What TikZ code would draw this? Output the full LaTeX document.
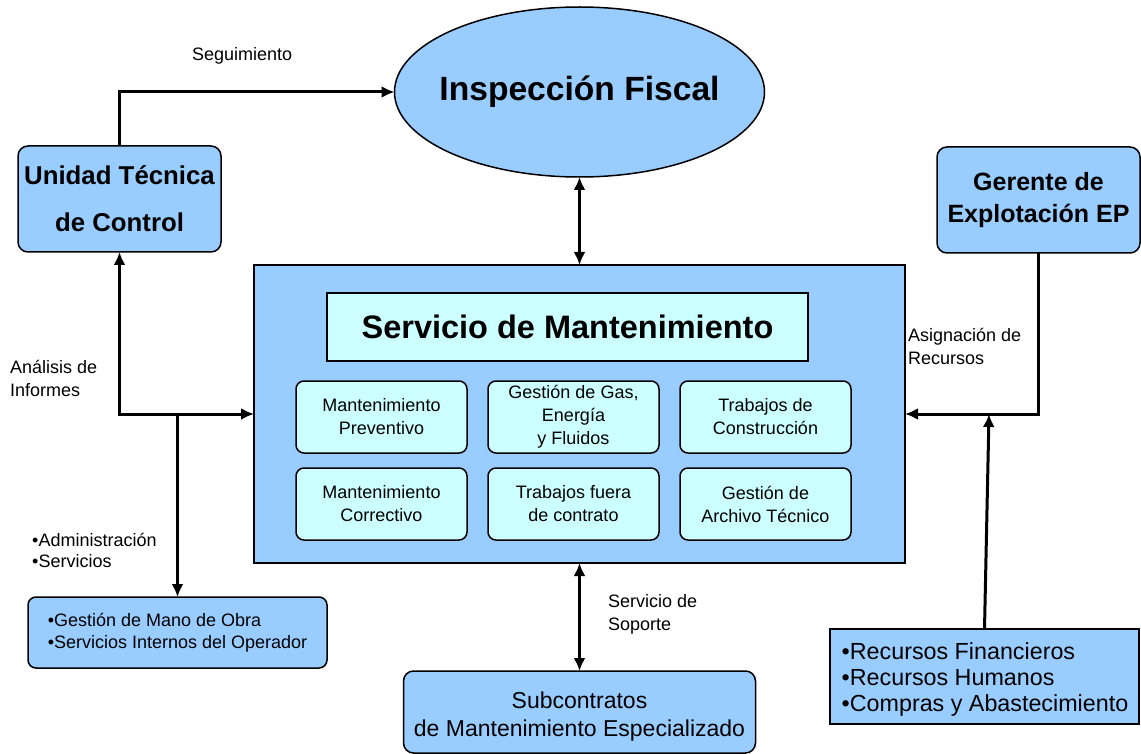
\documentclass[tikz,border=0pt]{standalone}
\usepackage{fontspec}
\setmainfont{Liberation Sans}
\usetikzlibrary{positioning,shapes.geometric,arrows.meta}
\definecolor{boxblue}{HTML}{99CCFF}
\definecolor{boxcyan}{HTML}{CCFFFF}
\tikzstyle{unit} = [rectangle, draw, fill=boxblue, line width=1.5pt, rounded corners=10pt, align=center, inner sep=0pt, outer sep=0pt]
\tikzstyle{task} = [rectangle, draw, fill=boxcyan, line width=1.5pt, rounded corners=8pt, align=center, minimum width=171pt, minimum height=72pt, inner sep=0pt, outer sep=0pt, font=\fontsize{18}{23}\selectfont]
\tikzstyle{note} = [align=left, inner sep=0pt, font=\fontsize{18}{23}\selectfont]
\tikzstyle{link} = [line width=3pt]

\begin{document}
\begin{tikzpicture}[x=1pt, y=-1pt, >={Latex[length=13pt,width=12pt]}]
        \useasboundingbox (0,0) rectangle (1141,754);

        \node [ellipse, draw, fill=boxblue, line width=1.5pt, outer sep=0pt, minimum width=370pt, minimum height=170pt] (fiscal) at (579.5,92) {};
        \node [font=\fontsize{33.6}{40}\selectfont\bfseries] (fiscaltxt) at (fiscal.center) {Inspección Fiscal};
        \node [unit, minimum width=203pt, minimum height=106pt, font=\fontsize{25.8}{47}\selectfont\bfseries] (utc) at (119.5,199) {Unidad Técnica\\de Control};
        \node [unit, minimum width=203pt, minimum height=106pt, font=\fontsize{25}{32}\selectfont\bfseries] (gerente) at (1038.5,200) {Gerente de\\Explotación EP};

        % servicio de mantenimiento
        \node [rectangle, draw, fill=boxblue, line width=1.5pt, outer sep=0pt, minimum width=651pt, minimum height=298pt] (servicio) at (579.5,414) {};
        \node [rectangle, draw, fill=boxcyan, line width=1.5pt, minimum width=481pt, minimum height=68pt, font=\fontsize{32.5}{38}\selectfont\bfseries] (titulo) at (567.5,327) {Servicio de Mantenimiento};
        \node [task] (preventivo) at (381.5,417) {Mantenimiento\\Preventivo};
        \node [task, right = 21pt of preventivo] (gas) {Gestión de Gas,\\Energía\\y Fluidos};
        \node [task, right = 21pt of gas] (construccion) {Trabajos de\\Construcción};
        \node [task, below = 15pt of preventivo] (correctivo) {Mantenimiento\\Correctivo};
        \node [task, below = 15pt of gas] (fuera) {Trabajos fuera\\de contrato};
        \node [task, below = 15pt of construccion] (archivo) {Gestión de\\Archivo Técnico};

        \node [unit, rounded corners=8pt, minimum width=299pt, minimum height=71pt, align=left, font=\fontsize{18}{22}\selectfont] (mano) at (177.5,632.5) {•Gestión de Mano de Obra\\•Servicios Internos del Operador};
        \node [unit, minimum width=352pt, minimum height=82pt] (subcon) at (579.5,712) {};
        \node [align=center, inner sep=0pt, font=\fontsize{23}{28}\selectfont] (subcontxt) at (579.5,717) {Subcontratos\\de Mantenimiento Especializado};
        \node [rectangle, draw, fill=boxblue, line width=1.5pt, outer sep=0pt, minimum width=309pt, minimum height=95pt] (recursos) at (984.5,676.5) {};
        \node [align=left, inner sep=0pt, font=\fontsize{23.3}{26}\selectfont] (recursostxt) at (985,679.5) {•Recursos Financieros\\•Recursos Humanos\\•Compras y Abastecimiento};

        % etiquetas
        \node [note, anchor=west] (seg) at (192,56) {Seguimiento};
        \node [note, anchor=west] (analisis) at (10,378.5) {Análisis de\\Informes};
        \node [note, anchor=west, font=\fontsize{18}{21}\selectfont] (admin) at (32,550.5) {•Administración\\•Servicios};
        \node [note, anchor=west] (asign) at (908,346.5) {Asignación de\\Recursos};
        \node [note, anchor=west] (soporte) at (608,614.5) {Servicio de\\Soporte};

        \draw [link, ->] (utc.north) |- (fiscal.west);
        \draw [link, <->] (fiscal.south) -- (servicio.north);
        \draw [link, <->] (utc.south) |- (servicio.west);
        \draw [link, ->] (mano.north |- servicio.west) -- (mano.north);
        \draw [link, ->] (gerente.south) |- (servicio.east);
        \coordinate (junta) at ([xshift=4.5pt]recursos.north |- servicio.east);
        \draw [link, ->] (recursos.north) -- (junta);
        \draw [link, <->] (servicio.south) -- (subcon.north);
\end{tikzpicture}
\end{document}
